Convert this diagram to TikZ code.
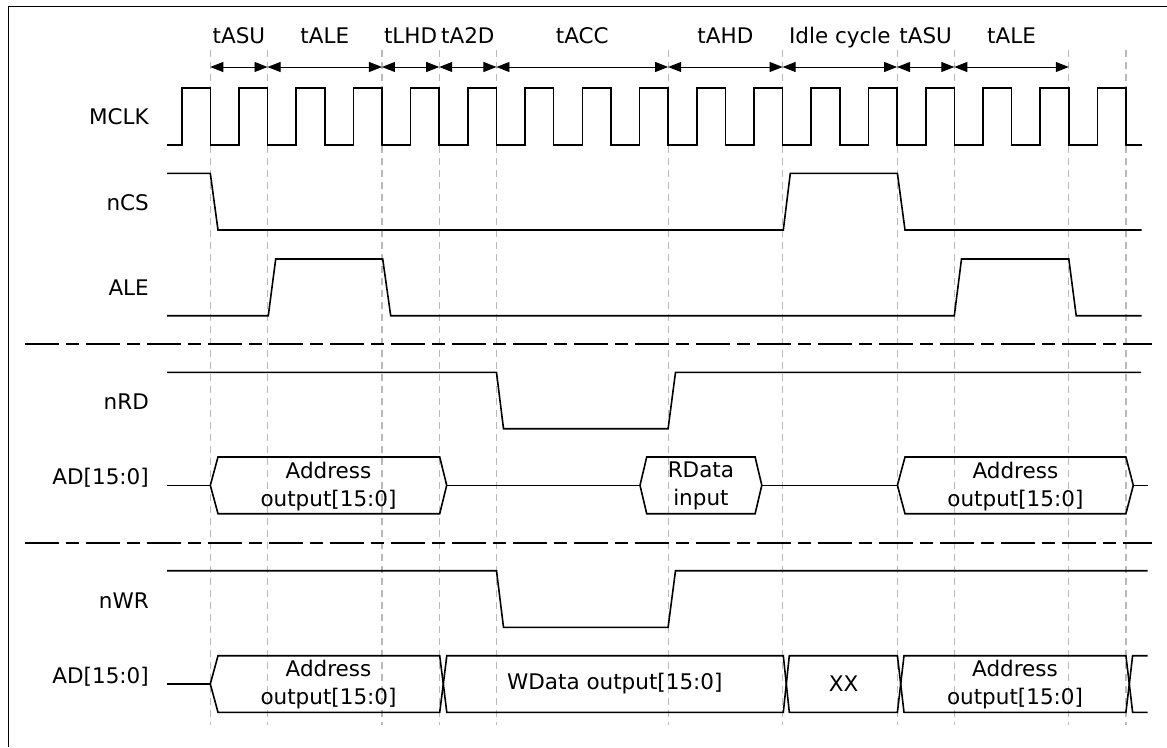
\documentclass[tikz,border=0pt]{standalone}
\usepackage{fontspec}
\setmainfont{DejaVu Sans}
\usepackage{tikz}
\usetikzlibrary{arrows.meta, calc}

\begin{document}
\begin{tikzpicture}[
  x=1pt, y=-1pt,
  font=\fontsize{21.5}{28}\selectfont,
  wave/.style={line width=1.6pt, line join=miter},
  guide/.style={gray!55, line width=1.1pt, dash pattern=on 7pt off 5pt},
  sepline/.style={line width=1.6pt, dash pattern=on 34pt off 7pt on 13pt off 7pt},
  span/.style={{Triangle[length=13pt,width=10pt]}-{Triangle[length=13pt,width=10pt]}, line width=0.9pt},
  tlabel/.style={anchor=base, yshift=24pt, inner sep=0pt},
  sig/.style={anchor=base east, inner sep=0pt},
  bustext/.style={align=center, inner sep=0pt}
]
\useasboundingbox (0,0) rectangle (1167,747);

%% frame
\draw[line width=1.2pt] (1167,6.7) -| (8.3,747);

%% clock edges: guide tops, bottoms and arrow ends
\foreach \k in {0,...,16} {
  \coordinate (t\k) at ({210.3+57.23*\k},50);
  \coordinate (b\k) at ({210.3+57.23*\k},725);
  \coordinate (a\k) at ({210.3+57.23*\k},67);
}
\foreach \k in {0,1,3,4,5,8,10,12,13,15,16}
  \draw[guide] (t\k) -- (b\k);

%% timing spans
\draw[span] (a0)  -- node[tlabel]{tASU} (a1);
\draw[span] (a1)  -- node[tlabel]{tALE} (a3);
\draw[span] (a3)  -- node[tlabel]{tLHD} (a4);
\draw[span] (a4)  -- node[tlabel]{tA2D} (a5);
\draw[span] (a5)  -- node[tlabel]{tACC} (a8);
\draw[span] (a8)  -- node[tlabel]{tAHD} (a10);
\draw[span] (a10) -- node[tlabel]{Idle cycle} (a12);
\draw[span] (a12) -- node[tlabel]{tASU} (a13);
\draw[span] (a13) -- node[tlabel]{tALE} (a15);

%% signal names
\node[sig] (mclk) at (149,124)   {MCLK};
\node[sig] (ncs)  at (149,210)   {nCS};
\node[sig] (ale)  at (149,295)   {ALE};
\node[sig] (nrd)  at (149,409.3) {nRD};
\node[sig] (adr)  at (149,484)   {AD[15:0]};
\node[sig] (nwr)  at (149,608.3) {nWR};
\node[sig] (adw)  at (149,683.3) {AD[15:0]};

%% MCLK
\draw[wave] (167,145) foreach \k in {0,...,16} {
  -| ({181.7+57.23*\k},88) -| ({210.3+57.23*\k},145) } -- (1141.7,145);

%% nCS
\draw[wave] (167,173.3) -- (210.3,173.3) -- (218,230) -- (783.3,230)
  -- (790.3,173.3) -- (897.4,173.3) -- (905,230) -- (1141.7,230);

%% ALE
\draw[wave] (167,315.7) -- (268.3,315.7) -- (275.7,259) -- (382.7,259)
  -- (390.7,315.7) -- (954.3,315.7) -- (961.5,259) -- (1068.8,259)
  -- (1076.2,315.7) -- (1141.7,315.7);

%% read / write separators
\draw[sepline] (25,344) -- (1152,344);
\draw[sepline] (25,542.7) -- (1152,542.7);

%% nRD
\draw[wave] (167,372.3) -- (496.5,372.3) -- (503.5,428.7) -- (668.1,428.7)
  -- (675.5,372.3) -- (1141,372.3);

%% AD read cycle
\draw[wave] (167,485.3) -- (210.3,485.3);
\draw[wave] (446.7,485.3) -- (640,485.3);
\draw[wave] (761.8,485.3) -- (897.4,485.3);
\draw[wave] (1133.3,485.3) -- (1147.7,485.3);
\foreach \p/\q/\r/\s in {210.3/218/439.7/446.7, 640/646.7/755.1/761.8,
                         897.4/905/1125.9/1133.3}
  \draw[wave] (\p,485.3) -- (\q,457) -- (\r,457) -- (\s,485.3)
    -- (\r,513.7) -- (\q,513.7) -- cycle;
\node[bustext] (raddr1) at (328.5,486.3) {Address\\output[15:0]};
\node[bustext] (rdata)  at (700.9,486.3) {RData\\input};
\node[bustext] (raddr2) at (1015.4,486.3) {Address\\output[15:0]};

%% nWR
\draw[wave] (167,570.7) -- (496.5,570.7) -- (503.5,627.3) -- (668.1,627.3)
  -- (675.5,570.7) -- (1147.7,570.7);

%% AD write cycle
\draw[wave] (167,684) -- (210.3,684);
\foreach \p/\q/\r/\s in {210.3/218/439.7/443.3, 443.3/446.8/783.3/786.3,
                         786.3/789.3/897.4/900.7, 900.7/904/1125.9/1129.3}
  \draw[wave] (\p,684) -- (\q,655.7) -- (\r,655.7) -- (\s,684)
    -- (\r,712.3) -- (\q,712.3) -- cycle;
\draw[wave] (1147.7,655.7) -- (1132.6,655.7) -- (1129.3,684)
  -- (1132.6,712.3) -- (1147.7,712.3);
\node[bustext] (waddr1) at (328.5,685) {Address\\output[15:0]};
\node[bustext] (wdata)  at (614.8,684) {WData output[15:0]};
\node[bustext] (wxx)    at (843.5,684) {XX};
\node[bustext] (waddr2) at (1015,685)  {Address\\output[15:0]};

\end{tikzpicture}
\end{document}
